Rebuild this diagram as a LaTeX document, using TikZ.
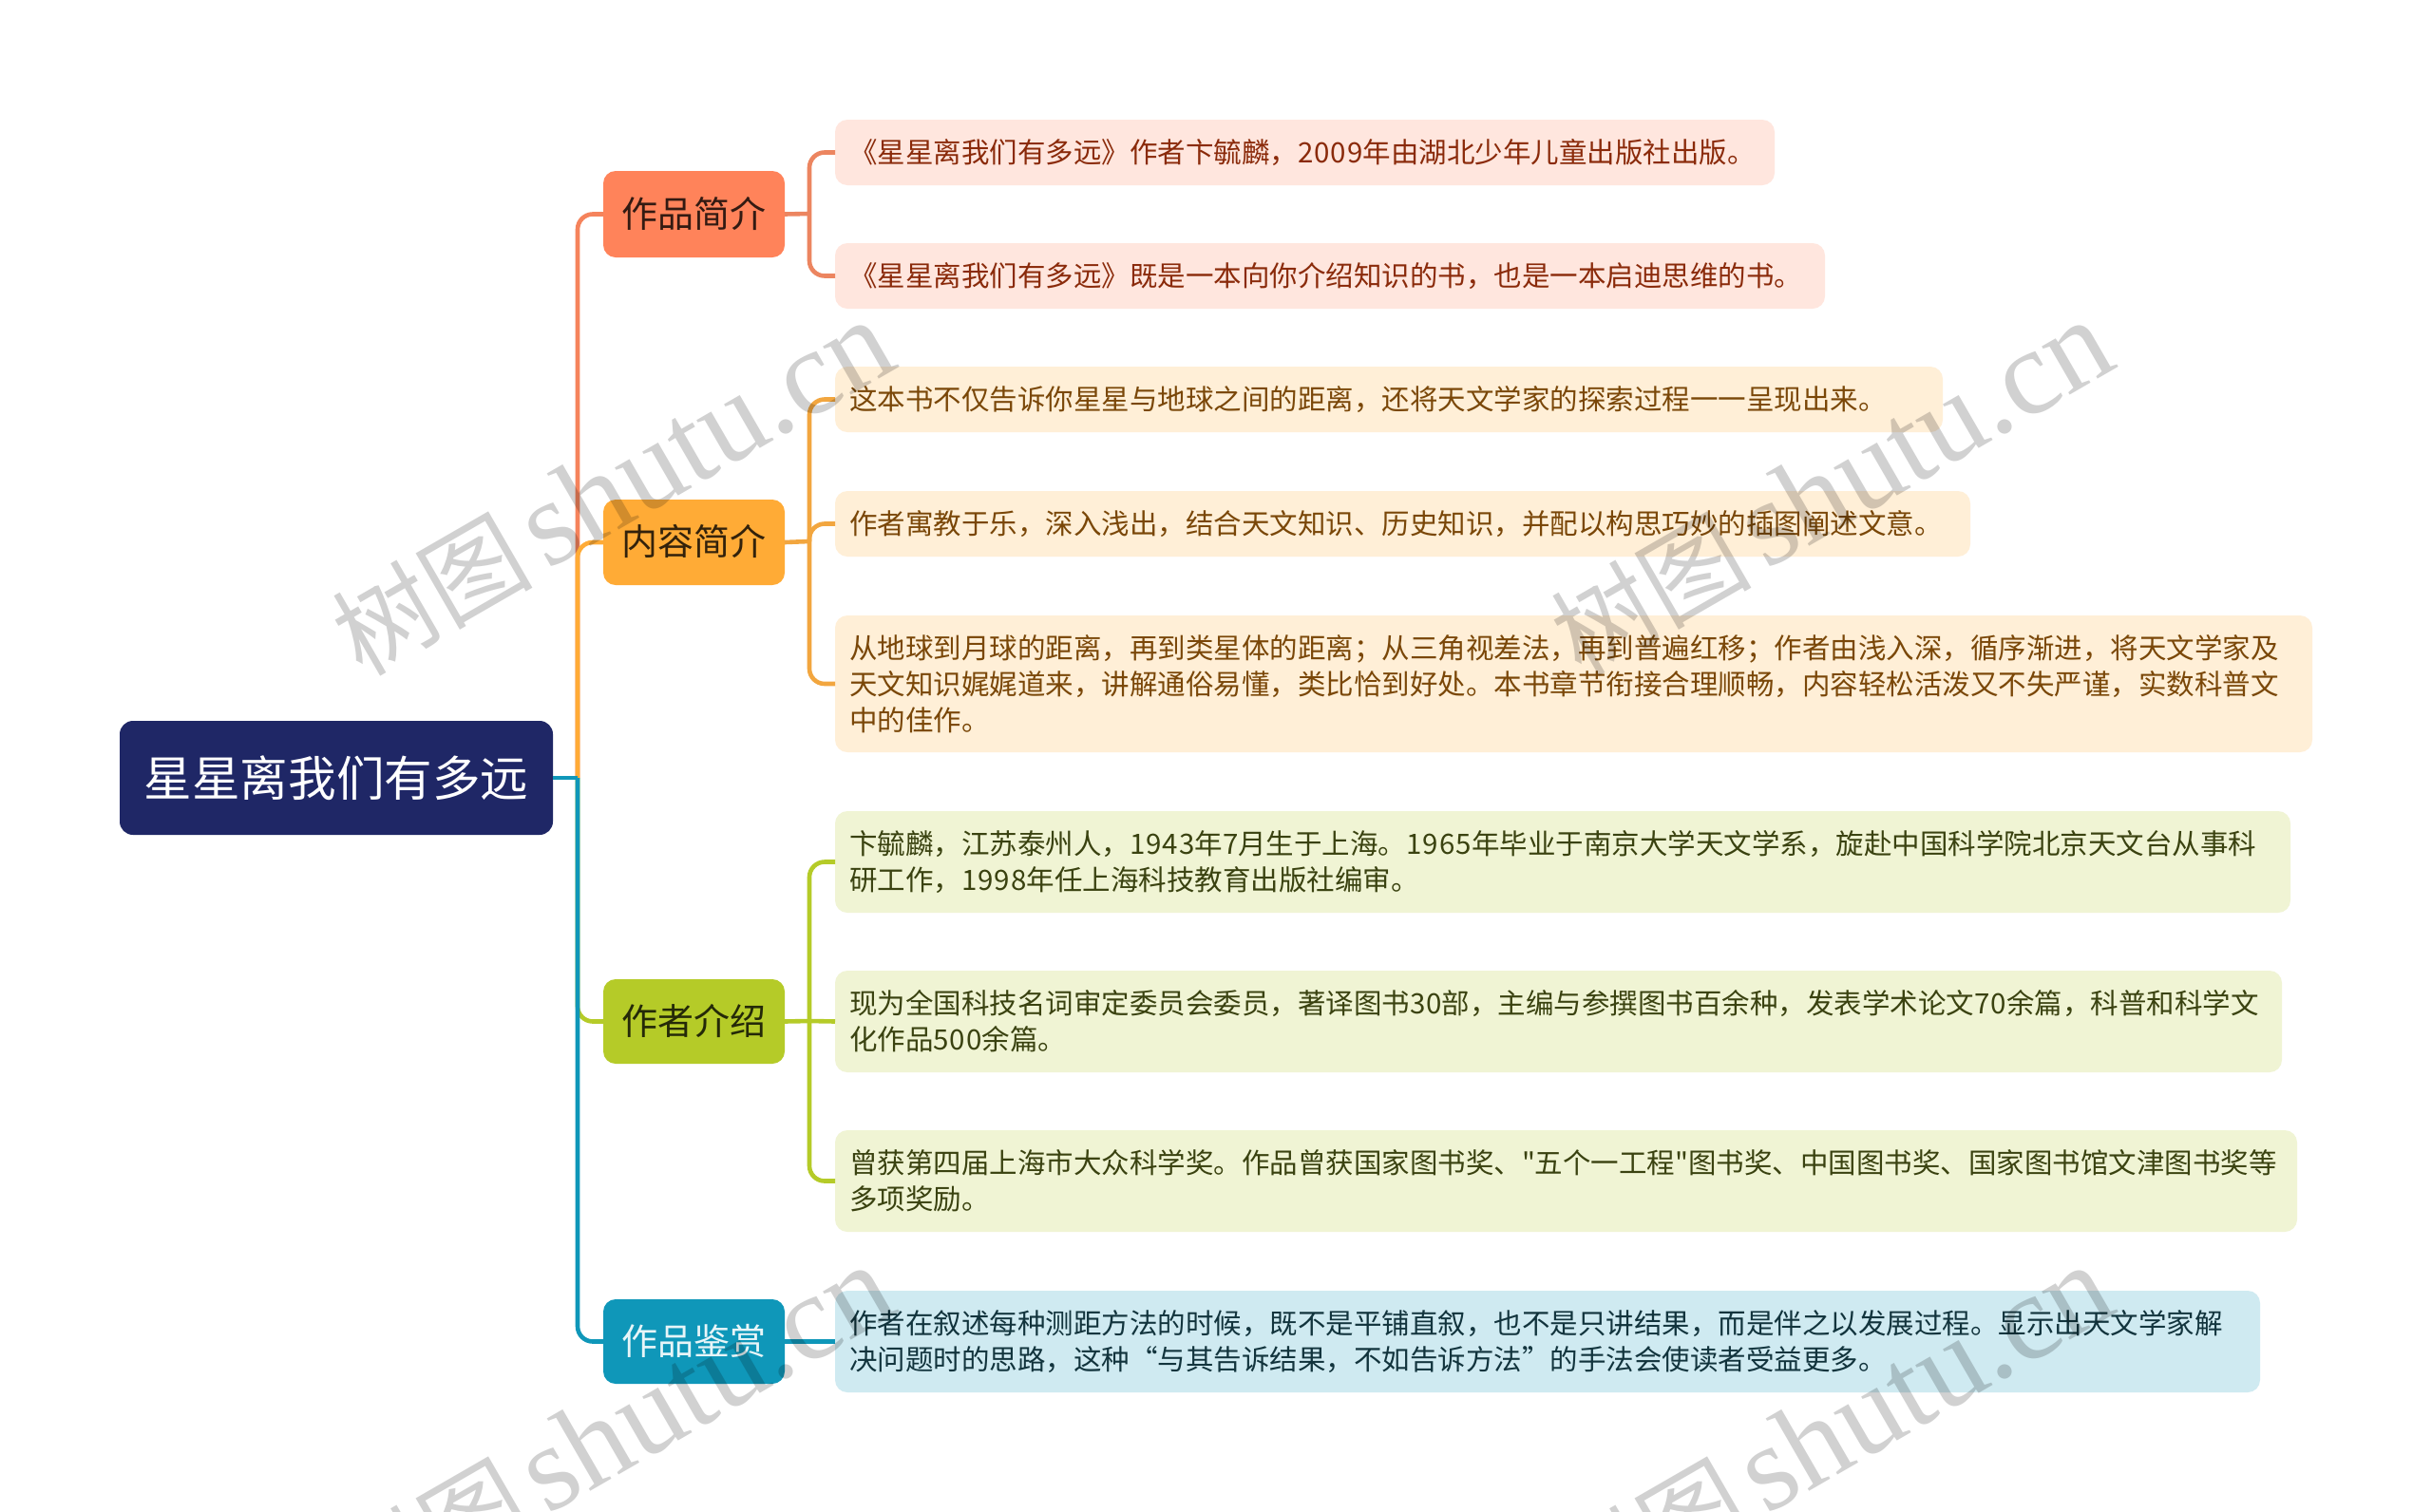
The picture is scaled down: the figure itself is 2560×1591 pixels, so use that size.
\documentclass[tikz,border=0pt]{standalone}
\usepackage{fontspec}
\setmainfont{Noto Sans CJK SC}
\newfontfamily\wmlatin{Liberation Serif}
\newfontfamily\wmcjk{Noto Sans CJK SC}
\newfontfamily\plainq{Noto Sans CJK SC}
\newfontfamily\dgfont[LetterSpace=3.5]{Noto Sans CJK SC}
\newcommand{\dg}[1]{{\dgfont #1}}
\definecolor{cCoral}{HTML}{FF835A}
\definecolor{cAmber}{HTML}{FFAB36}
\definecolor{cGreen}{HTML}{B5CB28}
\definecolor{cTeal}{HTML}{0F97B9}
\definecolor{cNavy}{HTML}{1F2766}
\definecolor{kCoral}{HTML}{F5835C}
\definecolor{kCoralB}{HTML}{EC8560}
\definecolor{kAmberB}{HTML}{F2A63F}
\definecolor{lCoral}{HTML}{FFE6DE}
\definecolor{lAmber}{HTML}{FFEFD7}
\definecolor{lGreen}{HTML}{F0F4D4}
\definecolor{lTeal}{HTML}{CFEAF1}
\definecolor{tCoral}{HTML}{8A2A0A}
\definecolor{tAmber}{HTML}{7A4708}
\definecolor{tGreen}{HTML}{3A4210}
\definecolor{tTeal}{HTML}{12343D}
\tikzset{
  base/.style={rectangle,inner sep=0pt,outer sep=0pt},
  rootbox/.style={base,fill=cNavy,rounded corners=7pt,text=white,align=center,font=\fontsize{25.3}{30}\selectfont},
  topic/.style={base,rounded corners=6.5pt,align=center,font=\fontsize{19}{24}\selectfont},
  leaf/.style={base,rounded corners=6.5pt,align=left,font=\fontsize{14.75}{19}\selectfont},
  conn/.style={line width=2.3pt,line cap=butt,rounded corners=8pt},
}
% style, name, x0, y0, x1, y1, text
\newcommand{\bx}[7]{%
  \pgfmathsetmacro{\cx}{(#3+#5)/2}%
  \pgfmathsetmacro{\cy}{(#4+#6)/2}%
  \pgfmathsetmacro{\bw}{(#5-#3)/2}%
  \pgfmathsetmacro{\bh}{(#6-#4)/2}%
  \node[#1,minimum width=\bw pt,minimum height=\bh pt] (#2) at (\cx,\cy) {\raisebox{2.2pt}{#7}};%
}
\newcommand{\lf}[7]{%
  \pgfmathsetmacro{\cx}{(#3+#5)/2}%
  \pgfmathsetmacro{\cy}{(#4+#6)/2}%
  \pgfmathsetmacro{\bw}{(#5-#3)/2}%
  \pgfmathsetmacro{\bh}{(#6-#4)/2}%
  \pgfmathsetmacro{\tw}{\bw-15}%
  \node[#1,minimum width=\bw pt,minimum height=\bh pt,text width=\tw pt] (#2) at (\cx,\cy) {#7};%
}
\newcommand{\wm}[1]{%
  \node[rotate=30,text=black,opacity=0.18,inner sep=0pt] at (#1) {{\wmcjk\fontsize{53}{60}\selectfont 树图}\hspace{7pt}{\wmlatin\fontsize{64}{70}\selectfont shutu.cn}};%
}
\begin{document}
\begin{tikzpicture}[x=0.5pt,y=-0.5pt]
\useasboundingbox (0,0) rectangle (2560,1591);
\fill[white] (0,0) rectangle (2560,1591);

% main trunk junctions
\coordinate (hub) at (608,819);
\coordinate (r1) at (852,225);
\coordinate (r2) at (852,570);
\coordinate (r3) at (852,1075);

% nodes
\bx{rootbox}{root}{126}{759}{582}{879}{星星离我们有多远}
\bx{topic,fill=cCoral,text=black!80!cCoral}{p1}{635}{180}{826}{271}{作品简介}
\bx{topic,fill=cAmber,text=black!80!cAmber}{p2}{635}{526}{826}{616}{内容简介}
\bx{topic,fill=cGreen,text=black!80!cGreen}{p3}{635}{1031}{826}{1120}{作者介绍}
\bx{topic,fill=cTeal,text=white!90!cTeal}{p4}{635}{1368}{826}{1457}{作品鉴赏}

\lf{leaf,fill=lCoral,text=tCoral}{a1}{879}{126}{1868}{195}{《星星离我们有多远》作者卞毓麟，\dg{2009}年由湖北少年儿童出版社出版。}
\lf{leaf,fill=lCoral,text=tCoral}{a2}{879}{256}{1921}{325}{《星星离我们有多远》既是一本向你介绍知识的书，也是一本启迪思维的书。}
\lf{leaf,fill=lAmber,text=tAmber}{b1}{879}{386}{2045}{455}{这本书不仅告诉你星星与地球之间的距离，还将天文学家的探索过程一一呈现出来。}
\lf{leaf,fill=lAmber,text=tAmber}{b2}{879}{517}{2074}{586}{作者寓教于乐，深入浅出，结合天文知识、历史知识，并配以构思巧妙的插图阐述文意。}
\lf{leaf,fill=lAmber,text=tAmber}{b3}{879}{648}{2434}{792}{从地球到月球的距离，再到类星体的距离；从三角视差法，再到普遍红移；作者由浅入深，循序渐进，将天文学家及\\天文知识娓娓道来，讲解通俗易懂，类比恰到好处。本书章节衔接合理顺畅，内容轻松活泼又不失严谨，实数科普文\\中的佳作。}
\lf{leaf,fill=lGreen,text=tGreen}{c1}{879}{854}{2411}{961}{卞毓麟，江苏泰州人，\dg{1943}年\dg{7}月生于上海。\dg{1965}年毕业于南京大学天文学系，旋赴中国科学院北京天文台从事科\\研工作，\dg{1998}年任上海科技教育出版社编审。}
\lf{leaf,fill=lGreen,text=tGreen}{c2}{879}{1022}{2402}{1129}{现为全国科技名词审定委员会委员，著译图书\dg{30}部，主编与参撰图书百余种，发表学术论文\dg{70}余篇，科普和科学文\\化作品\dg{500}余篇。}
\lf{leaf,fill=lGreen,text=tGreen}{c3}{879}{1190}{2418}{1297}{曾获第四届上海市大众科学奖。作品曾获国家图书奖、{\plainq"}五个一工程{\plainq"}图书奖、中国图书奖、国家图书馆文津图书奖等\\多项奖励。}
\lf{leaf,fill=lTeal,text=tTeal}{d1}{879}{1359}{2379}{1466}{作者在叙述每种测距方法的时候，既不是平铺直叙，也不是只讲结果，而是伴之以发展过程。显示出天文学家解\\决问题时的思路，这种“与其告诉结果，不如告诉方法”的手法会使读者受益更多。}

% connectors: root to topics
\draw[conn,kCoral] (hub) |- (p1.west);
\draw[conn,cAmber] (hub) |- (p2.west);
\draw[conn,cGreen] (hub) |- (p3.west);
\draw[conn,cTeal] (hub) |- (p4.west);
\draw[conn,cTeal] (root.east) -- (hub);

% connectors: topics to leaves
\draw[conn,kCoralB] (p1.east) -- (r1);
\draw[conn,kCoralB] (r1) |- (a1.west);
\draw[conn,kCoralB] (r1) |- (a2.west);
\draw[conn,kAmberB] (p2.east) -- (r2);
\draw[conn,kAmberB] (r2) |- (b1.west);
\draw[conn,kAmberB] (r2) |- (b2.west);
\draw[conn,kAmberB] (r2) |- (b3.west);
\draw[conn,cGreen] (p3.east) -- (r3);
\draw[conn,cGreen] (r3) |- (c1.west);
\draw[conn,cGreen] (r3) -- (c2.west);
\draw[conn,cGreen] (r3) |- (c3.west);
\draw[conn,cTeal] (p4.east) -- (d1.west);

% watermarks
\begin{scope}
\clip (0,0) rectangle (2560,1591);
\wm{645,515}
\wm{1928,515}
\wm{645,1510}
\wm{1928,1510}
\end{scope}
\end{tikzpicture}
\end{document}
